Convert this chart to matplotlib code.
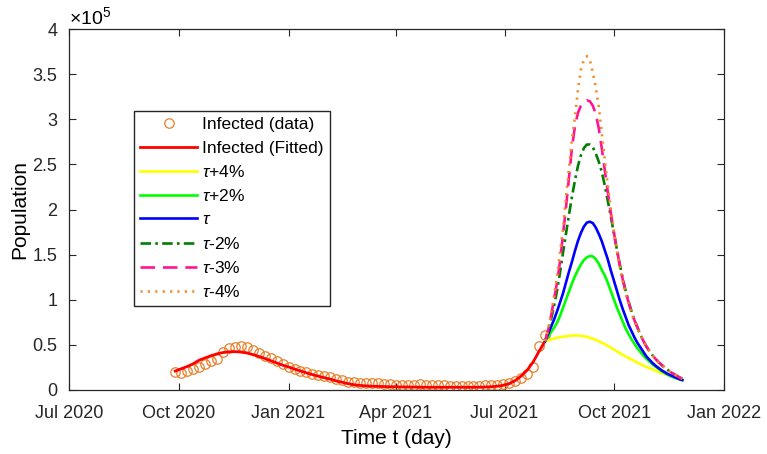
import matplotlib
matplotlib.use('Agg')
import matplotlib.pyplot as plt
import matplotlib.dates as mdates
from matplotlib.ticker import FuncFormatter
import numpy as np
import pandas as pd

plt.rcParams['font.family'] = ['Liberation Sans', 'DejaVu Sans']
plt.rcParams['mathtext.fontset'] = 'custom'
plt.rcParams['mathtext.rm'] = 'Liberation Sans'
plt.rcParams['mathtext.it'] = 'Liberation Sans:italic'

# observed / fitted infected counts, every 5 days (units of 1e5)
obs_dates = pd.date_range('2020-09-28', periods=63, freq='5D')
infected_data = [
    0.196, 0.185, 0.21, 0.235, 0.26, 0.29, 0.32, 0.345, 0.42, 0.46,
    0.48, 0.49, 0.48, 0.44, 0.41, 0.38, 0.35, 0.32, 0.29, 0.26,
    0.235, 0.215, 0.195, 0.18, 0.168, 0.155, 0.14, 0.125, 0.108, 0.092,
    0.085, 0.08, 0.077, 0.075, 0.073, 0.07, 0.065, 0.06, 0.058, 0.056,
    0.06, 0.062, 0.06, 0.058, 0.055, 0.05, 0.048, 0.046, 0.045, 0.045,
    0.046, 0.048, 0.05, 0.053, 0.058, 0.065, 0.08, 0.10, 0.13, 0.18,
    0.26, 0.49, 0.61,
]
infected_fit = [
    0.21, 0.235, 0.26, 0.29, 0.33, 0.355, 0.38, 0.40, 0.415, 0.423,
    0.425, 0.42, 0.41, 0.393, 0.372, 0.35, 0.325, 0.30, 0.275, 0.255,
    0.232, 0.21, 0.19, 0.17, 0.153, 0.136, 0.12, 0.10, 0.085, 0.07,
    0.058, 0.05, 0.045, 0.042, 0.04, 0.038, 0.036, 0.035, 0.034, 0.033,
    0.032, 0.031, 0.03, 0.03, 0.03, 0.03, 0.03, 0.03, 0.03, 0.03,
    0.03, 0.031, 0.033, 0.036, 0.042, 0.052, 0.07, 0.105, 0.155, 0.22,
    0.31, 0.43, 0.54,
]

# projections for different tau values, every 2.5 days from 4 Aug 2021
proj_dates = pd.date_range('2021-08-04', periods=47, freq='60h')
tau_p4 = [0.54, 0.55, 0.56, 0.57, 0.58, 0.585, 0.59, 0.595, 0.60, 0.603,
          0.605, 0.604, 0.60, 0.595, 0.588, 0.578, 0.567, 0.555, 0.54, 0.525,
          0.508, 0.49, 0.47, 0.45, 0.43, 0.41, 0.39, 0.372, 0.355, 0.337,
          0.32, 0.302, 0.285, 0.27, 0.255, 0.242, 0.23, 0.215, 0.20, 0.19,
          0.18, 0.17, 0.16, 0.15, 0.14, 0.13, 0.12]
tau_p2 = [0.54, 0.59, 0.64, 0.69, 0.745, 0.82, 0.91, 1.00, 1.09, 1.18,
          1.26, 1.33, 1.39, 1.44, 1.47, 1.485, 1.48, 1.45, 1.40, 1.33,
          1.27, 1.19, 1.10, 1.01, 0.92, 0.84, 0.76, 0.68, 0.62, 0.56,
          0.51, 0.46, 0.42, 0.38, 0.345, 0.315, 0.285, 0.26, 0.235, 0.21,
          0.19, 0.17, 0.155, 0.14, 0.13, 0.12, 0.11]
tau_0 = [0.54, 0.62, 0.70, 0.78, 0.87, 0.97, 1.07, 1.19, 1.31, 1.42,
         1.54, 1.65, 1.74, 1.81, 1.855, 1.865, 1.85, 1.80, 1.73, 1.65,
         1.55, 1.45, 1.33, 1.22, 1.11, 1.00, 0.90, 0.81, 0.72, 0.65,
         0.58, 0.52, 0.47, 0.42, 0.37, 0.335, 0.30, 0.27, 0.245, 0.22,
         0.20, 0.18, 0.165, 0.15, 0.135, 0.12, 0.11]
tau_m2 = [0.54, 0.65, 0.78, 0.93, 1.10, 1.30, 1.52, 1.73, 1.94, 2.14,
          2.32, 2.48, 2.60, 2.68, 2.72, 2.72, 2.69, 2.62, 2.53, 2.42,
          2.27, 2.10, 1.93, 1.75, 1.57, 1.40, 1.24, 1.10, 0.98, 0.87,
          0.77, 0.69, 0.61, 0.54, 0.48, 0.43, 0.385, 0.345, 0.31, 0.28,
          0.25, 0.225, 0.20, 0.18, 0.16, 0.14, 0.125]
tau_m3 = [0.54, 0.66, 0.82, 1.00, 1.19, 1.42, 1.72, 2.02, 2.35, 2.68,
          2.92, 3.07, 3.15, 3.19, 3.21, 3.20, 3.15, 3.06, 2.90, 2.68,
          2.44, 2.20, 1.97, 1.76, 1.57, 1.39, 1.23, 1.09, 0.97, 0.86,
          0.77, 0.69, 0.61, 0.54, 0.48, 0.43, 0.385, 0.345, 0.31, 0.28,
          0.25, 0.225, 0.20, 0.18, 0.16, 0.14, 0.125]
tau_m4 = [0.54, 0.68, 0.84, 1.04, 1.26, 1.52, 1.78, 2.14, 2.45, 2.78,
          3.02, 3.32, 3.55, 3.66, 3.70, 3.66, 3.52, 3.35, 3.14, 2.85,
          2.56, 2.28, 2.02, 1.77, 1.56, 1.37, 1.21, 1.07, 0.95, 0.85,
          0.76, 0.68, 0.61, 0.54, 0.48, 0.43, 0.385, 0.345, 0.31, 0.28,
          0.25, 0.225, 0.20, 0.18, 0.16, 0.14, 0.125]

scale = 1e5

fig = plt.figure(figsize=(7.67, 4.54), dpi=100)
ax = fig.add_axes([0.09, 0.141, 0.854, 0.795])

ax.plot(obs_dates, np.array(infected_data) * scale, 'o', mfc='none',
        mec='#E8802A', ms=6.8, mew=0.9, label='Infected (data)')
ax.plot(obs_dates, np.array(infected_fit) * scale, color='#FF0000', lw=2.0,
        label='Infected (Fitted)')
ax.plot(proj_dates, np.array(tau_p4) * scale, color='#FFFF00', lw=1.9,
        label=r'$\tau$+4%')
ax.plot(proj_dates, np.array(tau_p2) * scale, color='#00FF00', lw=1.9,
        label=r'$\tau$+2%')
ax.plot(proj_dates, np.array(tau_0) * scale, color='#0000FF', lw=1.9,
        label=r'$\tau$')
ax.plot(proj_dates, np.array(tau_m2) * scale, color='#007F00', lw=1.9,
        dashes=(4, 1.6, 1, 1.6), label=r'$\tau$-2%')
ax.plot(proj_dates, np.array(tau_m3) * scale, color='#FF1493', lw=1.9,
        dashes=(5.5, 3), label=r'$\tau$-3%')
ax.plot(proj_dates, np.array(tau_m4) * scale, color='#F28C28', lw=1.9,
        dashes=(0.8, 2.0), label=r'$\tau$-4%')

ax.set_xlim(pd.Timestamp('2020-07-01'), pd.Timestamp('2022-01-01'))
ax.set_ylim(0, 4e5)
ax.xaxis.set_major_locator(mdates.MonthLocator(bymonth=[1, 4, 7, 10]))
ax.xaxis.set_major_formatter(mdates.DateFormatter('%b %Y'))
ax.set_yticks(np.arange(0, 4.01e5, 0.5e5))
ax.yaxis.set_major_formatter(FuncFormatter(lambda v, p: f'{v / scale:g}'))
ax.text(0.0, 1.003, r'$\times$10$^5$', transform=ax.transAxes,
        ha='left', va='bottom', fontsize=14)

ax.tick_params(direction='in', length=5, width=0.8, labelsize=13,
               top=True, right=True, colors='#262626')
ax.tick_params(axis='x', pad=10.5)
ax.tick_params(axis='y', pad=8.5)
for sp in ax.spines.values():
    sp.set_linewidth(0.9)
    sp.set_color('#262626')

ax.set_xlabel('Time t (day)', fontsize=15, labelpad=5)
ax.set_ylabel('Population', fontsize=15, labelpad=2)

ax.legend(loc='upper left', bbox_to_anchor=(0.099, 0.773), borderaxespad=0,
          fontsize=12.5, handlelength=3.3, handletextpad=0.3,
          labelspacing=0.473, fancybox=False, edgecolor='#262626',
          framealpha=1, borderpad=0.35)

fig.savefig('out.png', dpi=100)
